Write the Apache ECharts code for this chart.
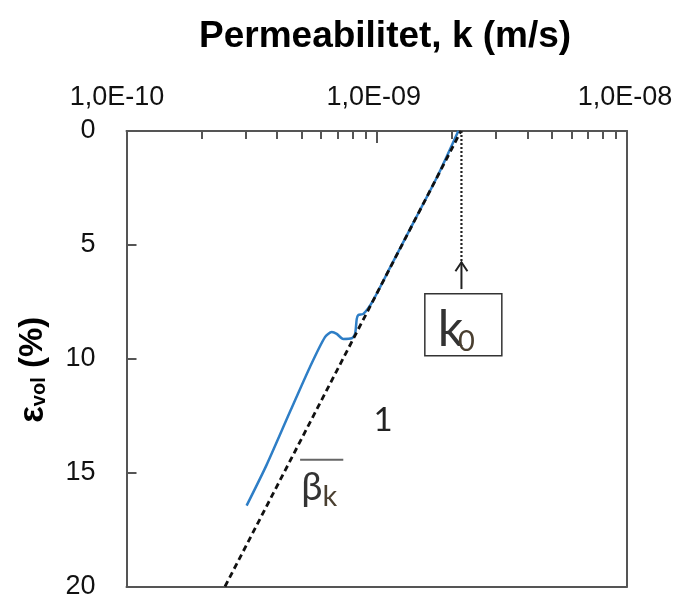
<!DOCTYPE html>
<html><head><meta charset="utf-8">
<script src="https://cdn.jsdelivr.net/npm/echarts@6/dist/echarts.min.js"></script>
<style>html,body{margin:0;padding:0;background:#fff}#c{width:685px;height:600px}</style>
</head><body><div id="c"></div>
<script>
// ---- data ----
const titleText = 'Permeabilitet, k (m/s)';
const xTickLabels = ['1,0E-10', '1,0E-09', '1,0E-08'];
const yTickValues = [0, 5, 10, 15, 20];
const minorTickK = [2e-10, 3e-10, 4e-10, 5e-10, 6e-10, 7e-10, 8e-10, 9e-10,
                    2e-9, 3e-9, 4e-9, 5e-9, 6e-9, 7e-9, 8e-9, 9e-9];
const measuredK = [3.02e-10, 3.63e-10, 4.50e-10, 5.41e-10, 6.21e-10, 6.61e-10, 6.92e-10, 7.35e-10, 7.94e-10,
                   8.19e-10, 8.32e-10, 8.44e-10, 8.84e-10, 9.60e-10, 1.13e-9, 1.405e-9, 1.746e-9, 2.118e-9];
const measuredEps = [16.45, 14.66, 12.33, 10.36, 9.05, 8.83, 8.91, 9.13, 9.10,
                     8.91, 8.25, 8.08, 8.03, 7.5, 6.0, 4.0, 2.0, 0];
const fitK = [2.475e-10, 2.171e-9];
const fitEps = [20, 0];
const k0 = 2.18e-9;
const k0ArrowEps = [5.76, 6.94];      // arrow tip, arrow tail
const k0BoxAt = [2.218e-9, 8.51];
const betaAt = [5.93e-10, 15.68];
const betaBarK = [4.94e-10, 7.35e-10];
const betaBarEps = 14.43;
const oneAt = [1.059e-9, 12.71];

// ---- chart ----
const chart = echarts.init(document.getElementById('c'));
const axisColor = '#555';
const labelFont = 'Liberation Sans, Arial, sans-serif';
const annFont = 'Lato, "Noto Sans", sans-serif';

function labelFor(v) {
  const e = Math.round(Math.log10(v));
  const idx = e + 10;
  const txt = xTickLabels[idx] || '';
  const style = idx === 0 ? 'a' : (idx === 1 ? 'b' : 'c');
  return '{' + style + '|' + txt + '}';
}

function renderAnn(params, api) {
  const top = api.coord([k0, 0]);
  const tip = api.coord([k0, k0ArrowEps[0]]);
  const tail = api.coord([k0, k0ArrowEps[1]]);
  const box = api.coord(k0BoxAt);
  const beta = api.coord(betaAt);
  const b1 = api.coord([betaBarK[0], betaBarEps]);
  const b2 = api.coord([betaBarK[1], betaBarEps]);
  const one = api.coord(oneAt);
  return {
    type: 'group',
    children: [
      {type: 'line', shape: {x1: top[0], y1: top[1], x2: tip[0], y2: tip[1]},
       style: {stroke: '#222', lineWidth: 2.2, lineDash: [2, 2]}},
      {type: 'line', shape: {x1: tail[0], y1: tail[1], x2: tip[0], y2: tip[1]},
       style: {stroke: '#222', lineWidth: 2}},
      {type: 'polyline', shape: {points: [[tip[0] - 6, tip[1] + 9], [tip[0], tip[1]], [tip[0] + 6, tip[1] + 9]]},
       style: {stroke: '#222', lineWidth: 2, fill: null}},
      {type: 'rect', shape: {x: box[0] - 38.5, y: box[1] - 31, width: 77, height: 62},
       style: {fill: '#fff', stroke: '#333', lineWidth: 1.5}},
      {type: 'text', style: {text: 'k', x: box[0] - 13, y: box[1] + 5, align: 'center', verticalAlign: 'middle',
        fontSize: 50, fontFamily: annFont, fontWeight: 'normal', fill: '#333'}},
      {type: 'text', style: {text: '0', x: box[0] + 3, y: box[1] + 17, align: 'center', verticalAlign: 'middle',
        fontSize: 29, fontFamily: annFont, fontWeight: 'normal', fill: '#4a3f30'}},
      {type: 'line', shape: {x1: b1[0], y1: b1[1], x2: b2[0], y2: b2[1]},
       style: {stroke: '#666', lineWidth: 2}},
      {type: 'text', style: {text: 'β', x: beta[0] - 8, y: beta[1], align: 'center', verticalAlign: 'middle',
        fontSize: 38, fontFamily: annFont, fontWeight: 'normal', fill: '#333'}},
      {type: 'text', style: {text: 'k', x: beta[0] + 10, y: beta[1] + 9, align: 'center', verticalAlign: 'middle',
        fontSize: 29, fontFamily: annFont, fontWeight: 'normal', fill: '#4a3f30'}},
      {type: 'text', style: {text: '1', x: one[0], y: one[1], align: 'center', verticalAlign: 'middle',
        fontSize: 33, fontFamily: annFont, fontWeight: 'normal', fill: '#222'}}
    ]
  };
}

const option = {
  animation: false,
  backgroundColor: '#fff',
  title: {
    text: titleText, left: 194, top: 13,
    textStyle: {fontSize: 37, fontWeight: 'bold', fontFamily: labelFont, color: '#000'}
  },
  grid: {left: 126.5, right: 58, top: 131, bottom: 11, containLabel: false},
  xAxis: [
    {
      type: 'log', logBase: 10, min: 1e-10, max: 1e-8, position: 'top',
      axisLine: {show: true, lineStyle: {color: axisColor, width: 2}},
      axisTick: {show: true, inside: true, length: 12, lineStyle: {color: axisColor, width: 2}},
      splitLine: {show: false}, minorTick: {show: false},
      axisLabel: {
        show: true, margin: 20, formatter: labelFor,
        rich: {
          a: {fontSize: 27, fontFamily: labelFont, color: '#111', padding: [0, 19, 0, 0]},
          b: {fontSize: 27, fontFamily: labelFont, color: '#111', padding: [0, 6, 0, 0]},
          c: {fontSize: 27, fontFamily: labelFont, color: '#111', padding: [0, 4, 0, 0]}
        }
      }
    },
    {
      type: 'log', logBase: 10, min: 1e-10, max: 1e-8, position: 'bottom',
      axisLine: {show: true, onZero: false, lineStyle: {color: axisColor, width: 2}},
      axisTick: {show: false}, axisLabel: {show: false}, splitLine: {show: false}
    },
    {
      type: 'value', min: -10, max: -8, position: 'top',
      axisLine: {show: false},
      axisTick: {show: true, inside: true, length: 8, customValues: minorTickK.map(Math.log10),
                 lineStyle: {color: axisColor, width: 2}},
      axisLabel: {show: false}, splitLine: {show: false}
    }
  ],
  yAxis: [
    {
      type: 'value', inverse: true, min: 0, max: 20, interval: 5, position: 'left',
      name: '{e|ε}{s|vol}{p| (%)}', nameLocation: 'middle', nameGap: 76, nameRotate: 90,
      nameTextStyle: {
        rich: {
          e: {fontSize: 35, fontWeight: 'bold', fontFamily: labelFont, color: '#000'},
          s: {fontSize: 20, fontWeight: 'bold', fontFamily: labelFont, color: '#000', padding: [12, 0, 0, 0]},
          p: {fontSize: 33, fontWeight: 'bold', fontFamily: labelFont, color: '#000', padding: [0, 22, 0, 0]}
        }
      },
      axisLine: {show: true, onZero: false, lineStyle: {color: axisColor, width: 2}},
      axisTick: {show: true, inside: true, length: 10, customValues: yTickValues, lineStyle: {color: axisColor, width: 2}},
      axisLabel: {show: true, margin: 31, fontSize: 27, fontFamily: labelFont, color: '#111', customValues: yTickValues},
      splitLine: {show: false}
    },
    {
      type: 'value', inverse: true, min: 0, max: 20, position: 'right',
      axisLine: {show: true, onZero: false, lineStyle: {color: axisColor, width: 2}},
      axisTick: {show: false}, axisLabel: {show: false}, splitLine: {show: false}
    }
  ],
  series: [
    {
      name: 'fit', type: 'line', xAxisIndex: 0, yAxisIndex: 0,
      data: fitK.map((k, i) => [k, fitEps[i]]),
      showSymbol: false, symbol: 'none',
      lineStyle: {color: '#111', width: 2.8, type: [6, 4]}, z: 3
    },
    {
      name: 'measured', type: 'line', xAxisIndex: 0, yAxisIndex: 0,
      data: measuredK.map((k, i) => [k, measuredEps[i]]),
      showSymbol: false, symbol: 'none', smooth: 0.25,
      lineStyle: {color: '#2E7EC6', width: 2.5}, z: 2
    },
    {
      name: 'annotations', type: 'custom', xAxisIndex: 0, yAxisIndex: 0,
      data: [[k0, 0]], renderItem: renderAnn, clip: false, silent: true, z: 5
    }
  ]
};
chart.setOption(option);
</script>
</body></html>
